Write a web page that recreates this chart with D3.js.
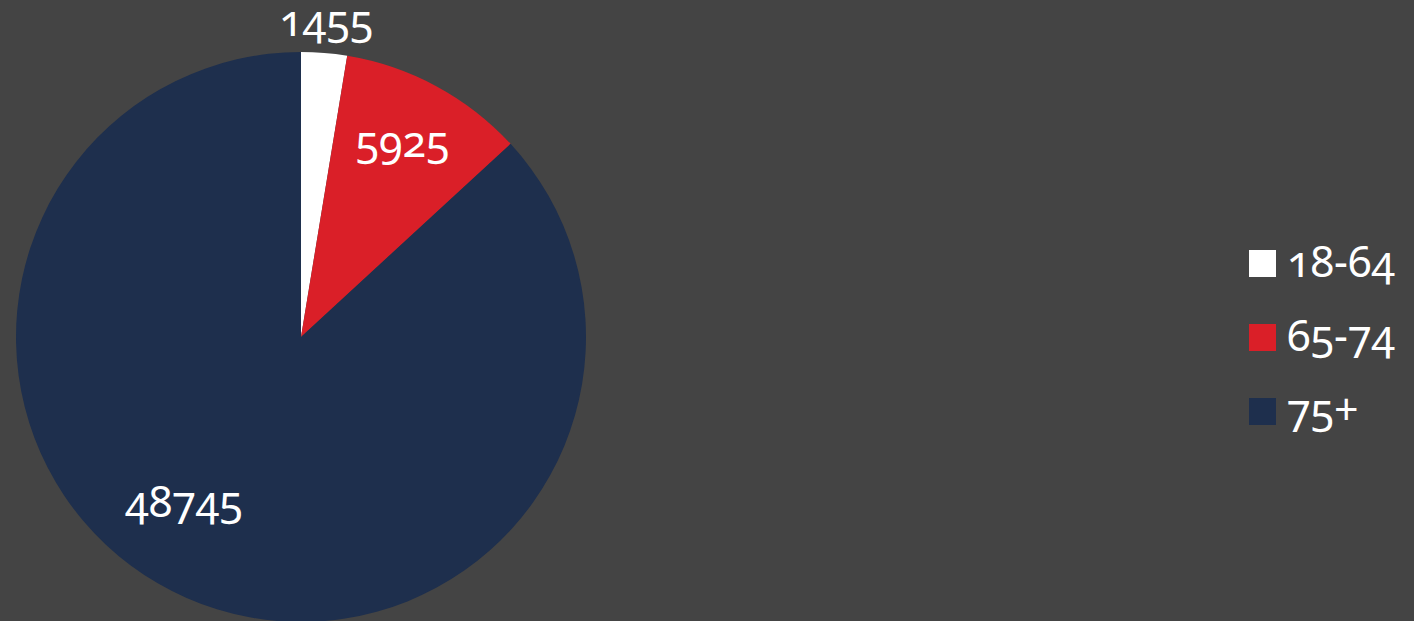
<!DOCTYPE html>
<html>
<head>
<meta charset="utf-8">
<script src="https://cdn.jsdelivr.net/npm/d3@7"></script>
<style>
  body { margin: 0; background: #444444; }
  svg { display: block; }
  text { font-family: "Noto Sans", "Open Sans", sans-serif; fill: #fff; font-variant-numeric: oldstyle-nums; font-feature-settings: "onum" 1; }
</style>
</head>
<body>
<svg id="chart" width="1414" height="621"></svg>
<script>
var categories = ["18-64", "65-74", "75+"];
var values = [1455, 5925, 48745];
var colors = ["#ffffff", "#da1f28", "#1e2f4d"];

var width = 1414, height = 621;
var cx = 301, cy = 337, radius = 285;

// label placement per slice: radius factor and optional angle (degrees from 12 o'clock)
var labelPlace = [
  { r: 1.09, a: null },
  { r: 0.75, a: null },
  { r: 0.727, a: 214.4 }
];

var svg = d3.select("#chart");

var color = d3.scaleOrdinal().domain(categories).range(colors);

var pie = d3.pie().sort(null).value(function(d, i) { return values[i]; });
var arcs = pie(categories);

var arc = d3.arc().innerRadius(0).outerRadius(radius);

var g = svg.append("g").attr("transform", "translate(" + cx + "," + cy + ")");

g.selectAll("path")
    .data(arcs)
  .enter().append("path")
    .attr("d", arc)
    .attr("fill", function(d) { return color(d.data); });

g.selectAll("text.val")
    .data(arcs)
  .enter().append("text")
    .attr("class", "val")
    .attr("transform", function(d) {
      var p = labelPlace[d.index];
      var ang = p.a == null ? (d.startAngle + d.endAngle) / 2 : p.a * Math.PI / 180;
      var rr = radius * p.r;
      return "translate(" + (Math.sin(ang) * rr) + "," + (-Math.cos(ang) * rr) + ")";
    })
    .attr("text-anchor", "middle")
    .attr("dy", "0.2em")
    .style("font-size", "43px")
    .text(function(d) { return values[d.index]; });

// legend
var legend = svg.append("g").attr("transform", "translate(1249,250)");
var item = legend.selectAll("g")
    .data(categories)
  .enter().append("g")
    .attr("transform", function(d, i) { return "translate(0," + (i * 74) + ")"; });

item.append("rect")
    .attr("width", 27)
    .attr("height", 27)
    .attr("fill", function(d) { return color(d); });

item.append("text")
    .attr("x", 38)
    .attr("y", 14)
    .attr("dy", "0.3em")
    .style("font-size", "43px")
    .text(function(d) { return d; });
</script>
</body>
</html>
